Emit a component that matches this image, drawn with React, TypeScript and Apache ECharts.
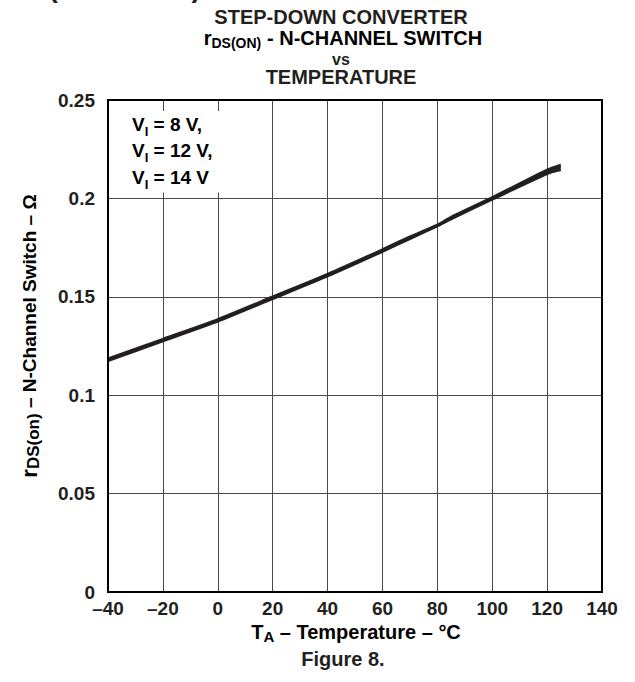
import React, { useEffect, useRef } from "react";
import * as echarts from "echarts";

const temps = [-40, -20, 0, 20, 40, 60, 70, 80, 85, 100, 120, 125];
const rdsV8 = [0.1175, 0.1275, 0.1375, 0.149, 0.1605, 0.173, 0.1795, 0.186, 0.1895, 0.1995, 0.2125, 0.2145];
const rdsV12 = [0.118, 0.128, 0.138, 0.1495, 0.161, 0.1735, 0.18, 0.1862, 0.19, 0.2, 0.2135, 0.2158];
const rdsV14 = [0.1185, 0.1285, 0.1385, 0.15, 0.1615, 0.174, 0.1805, 0.1865, 0.1905, 0.2005, 0.2145, 0.217];
const seriesNames = ["VI = 8 V", "VI = 12 V", "VI = 14 V"];

const FONT = "'Liberation Sans', Arial, Helvetica, sans-serif";
const INK = "#231f20";
const FS = 19;

export default function App() {
  const ref = useRef<HTMLDivElement>(null);
  useEffect(() => {
    if (!ref.current) return;
    const chart = echarts.init(ref.current, undefined, { renderer: "svg" });
    const all = [rdsV8, rdsV12, rdsV14];
    const fmtX = (v: number) => (v < 0 ? "\u2013" + Math.abs(v) : String(v));
    const plain = (size: number) => ({
      fontFamily: FONT,
      fontWeight: "bold",
      fontSize: size,
      fill: INK,
      textAlign: "center",
      textVerticalAlign: "middle",
    });
    chart.setOption({
      animation: false,
      backgroundColor: "#ffffff",
      grid: { left: 108, right: 33, top: 100, bottom: 90, containLabel: false },
      xAxis: {
        type: "value",
        min: -40,
        max: 140,
        interval: 20,
        axisLine: { show: true, onZero: false, lineStyle: { color: "#000", width: 2 } },
        axisTick: { show: false },
        splitLine: { show: true, lineStyle: { color: "#4a4a4a", width: 1 } },
        axisLabel: {
          formatter: fmtX,
          fontFamily: FONT,
          fontWeight: "bold",
          fontSize: FS,
          color: INK,
          margin: 7,
        },
      },
      yAxis: {
        type: "value",
        min: 0,
        max: 0.25,
        interval: 0.05,
        axisLine: { show: true, onZero: false, lineStyle: { color: "#000", width: 2 } },
        axisTick: { show: false },
        splitLine: { show: true, lineStyle: { color: "#4a4a4a", width: 1 } },
        axisLabel: {
          formatter: (v: number) => String(Math.round(v * 100) / 100),
          fontFamily: FONT,
          fontWeight: "bold",
          fontSize: FS,
          color: INK,
          margin: 13,
        },
      },
      series: all.map((arr, i) => ({
        type: "line",
        name: seriesNames[i],
        data: temps.map((t, j) => [t, arr[j]]),
        showSymbol: false,
        smooth: 0.2,
        lineStyle: { color: INK, width: 2.6 },
        z: 5,
      })),
      graphic: [
        {
          type: "rect",
          shape: { x: 108, y: 100, width: 494, height: 492 },
          style: { fill: "none", stroke: "#000", lineWidth: 2 },
          z: 10,
          silent: true,
        },
        {
          type: "text",
          x: -6,
          y: -27,
          style: {
            text: "ICS (continued)",
            fontFamily: FONT,
            fontWeight: "bold",
            fontSize: 28,
            fill: INK,
          },
        },
        { type: "text", x: 341, y: 17, style: { text: "STEP-DOWN CONVERTER", ...plain(20) } },
        {
          type: "text",
          x: 343,
          y: 38,
          style: {
            text: "{r|r}{s|DS(ON)}{b| - N-CHANNEL SWITCH}",
            textAlign: "center",
            textVerticalAlign: "middle",
            rich: {
              r: { fontFamily: FONT, fontWeight: "bold", fontSize: 20, color: INK, lineHeight: 24, verticalAlign: "middle" },
              s: { fontFamily: FONT, fontWeight: "bold", fontSize: 14, color: INK, lineHeight: 24, padding: [11, 0, 0, 0], verticalAlign: "bottom" },
              b: { fontFamily: FONT, fontWeight: "bold", fontSize: 20, color: INK, lineHeight: 24, verticalAlign: "middle" },
            },
          },
        },
        { type: "text", x: 341, y: 59, style: { text: "vs", ...plain(16) } },
        { type: "text", x: 341, y: 77, style: { text: "TEMPERATURE", ...plain(20) } },
        {
          type: "text",
          x: 124,
          y: 111,
          z: 20,
          style: {
            text: "{v|V}{s|I}{v| = 8 V,}\n{v|V}{s|I}{v| = 12 V,}\n{v|V}{s|I}{v| = 14 V}",
            backgroundColor: "#ffffff",
            padding: [0, 10, 2, 8],
            rich: {
              v: { fontFamily: FONT, fontWeight: "bold", fontSize: 19, color: INK, lineHeight: 26.5, verticalAlign: "middle" },
              s: { fontFamily: FONT, fontWeight: "bold", fontSize: 13, color: INK, lineHeight: 26.5, padding: [10, 0, 0, 0], verticalAlign: "bottom" },
            },
          },
        },
        {
          type: "text",
          x: 29,
          y: 336,
          rotation: Math.PI / 2,
          style: {
            text: "{r|r}{s|DS(on)}{t| \u2013 N-Channel Switch \u2013 \u03A9}",
            textAlign: "center",
            textVerticalAlign: "middle",
            rich: {
              r: { fontFamily: FONT, fontWeight: "bold", fontSize: 22, color: INK, lineHeight: 26, verticalAlign: "middle" },
              s: { fontFamily: FONT, fontWeight: "bold", fontSize: 17, color: INK, lineHeight: 26, padding: [12, 0, 0, 0], verticalAlign: "bottom" },
              t: { fontFamily: FONT, fontWeight: "bold", fontSize: 19, color: INK, lineHeight: 26, verticalAlign: "middle" },
            },
          },
        },
        {
          type: "text",
          x: 356,
          y: 632,
          style: {
            text: "{t|T}{s|A}{t| \u2013 Temperature \u2013 \u00B0C}",
            textAlign: "center",
            textVerticalAlign: "middle",
            rich: {
              t: { fontFamily: FONT, fontWeight: "bold", fontSize: 20, color: INK, lineHeight: 24, verticalAlign: "middle" },
              s: { fontFamily: FONT, fontWeight: "bold", fontSize: 15, color: INK, lineHeight: 24, padding: [11, 0, 0, 0], verticalAlign: "bottom" },
            },
          },
        },
        { type: "text", x: 343, y: 659, style: { text: "Figure 8.", ...plain(20) } },
      ],
    });
    return () => chart.dispose();
  }, []);
  return <div ref={ref} style={{ width: 635, height: 682, position: "absolute", left: 0, top: 0 }} />;
}
